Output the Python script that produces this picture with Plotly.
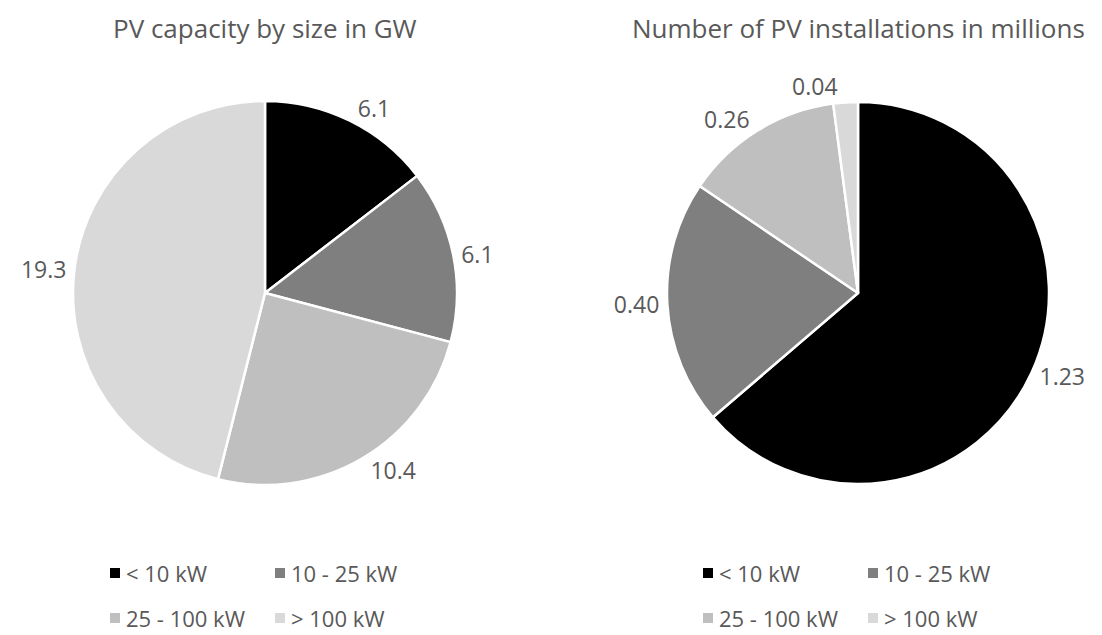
import plotly.graph_objects as go

categories = ["< 10 kW", "10 - 25 kW", "25 - 100 kW", "> 100 kW"]
capacity_gw = [6.1, 6.1, 10.4, 19.3]
capacity_labels = ["6.1", "6.1", "10.4", "19.3"]
installs_mn = [1.23, 0.40, 0.26, 0.04]
installs_labels = ["1.23", "0.40", "0.26", "0.04"]
colors = ["#000000", "#7f7f7f", "#bfbfbf", "#d9d9d9"]
titles = ["PV capacity by size in GW", "Number of PV installations in millions"]

OFF = 8  # page body margin
W, H = 1094, 627
FONT = "Open Sans"
TXT = "#595959"

fig = go.Figure()

def px_x(v):
    return (v - OFF) / W

def px_y(v):
    return 1 - (v - OFF) / H

pies = [
    (capacity_gw, capacity_labels, 265, 293, 192),
    (installs_mn, installs_labels, 858, 293, 191),
]
for vals, labs, cx, cy, r in pies:
    fig.add_trace(go.Pie(
        labels=categories, values=vals, text=labs,
        textinfo="text", textposition="outside",
        sort=False, direction="clockwise", rotation=0,
        marker=dict(colors=colors, line=dict(color="white", width=2.5)),
        textfont=dict(family=FONT, size=23, color=TXT),
        domain=dict(x=[px_x(cx - r), px_x(cx + r)], y=[px_y(cy + r), px_y(cy - r)]),
        showlegend=False, hoverinfo="label+value",
    ))

annotations = []
shapes = []
for t, cx in zip(titles, [265, 858]):
    annotations.append(dict(text=t, x=px_x(cx), y=1, xref="paper", yref="paper",
                            showarrow=False, xanchor="center", yanchor="top",
                            font=dict(family=FONT, size=26, color=TXT)))

legend_origins = [(115, 573), (708, 573)]
col_dx = 165
row_dy = 45
for ox, oy in legend_origins:
    for i, (cat, col) in enumerate(zip(categories, colors)):
        sx = ox + (i % 2) * col_dx
        sy = oy + (i // 2) * row_dy
        shapes.append(dict(type="rect", xref="paper", yref="paper",
                           x0=px_x(sx - 5), x1=px_x(sx + 5), y0=px_y(sy + 5), y1=px_y(sy - 5),
                           fillcolor=col, line=dict(width=0)))
        annotations.append(dict(text=cat, x=px_x(sx + 9), y=px_y(sy), xref="paper", yref="paper",
                                showarrow=False, xanchor="left", yanchor="middle",
                                font=dict(family=FONT, size=22, color=TXT)))

fig.update_layout(
    width=W, height=H,
    margin=dict(l=0, r=0, t=0, b=0),
    paper_bgcolor="white", plot_bgcolor="white",
    annotations=annotations, shapes=shapes,
)

fig.write_html("out.html")
